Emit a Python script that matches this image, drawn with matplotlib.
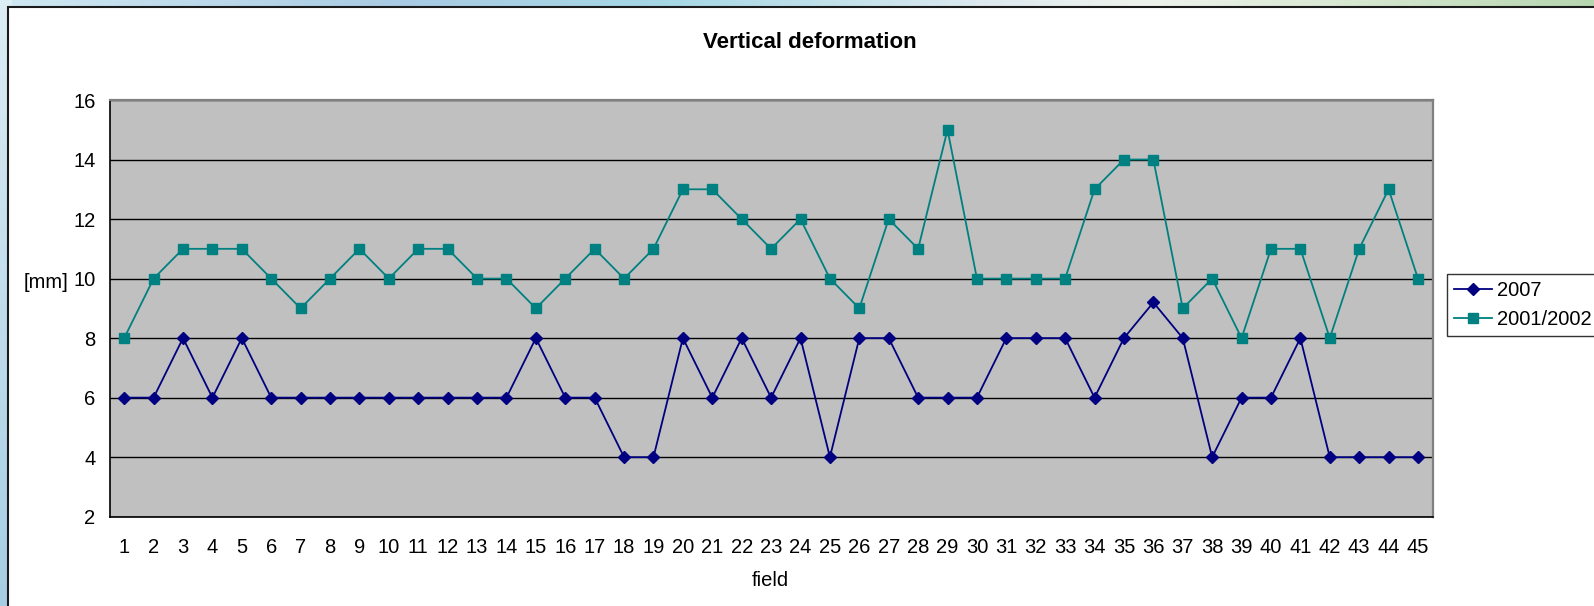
import numpy as np
import matplotlib
matplotlib.use("Agg")
import matplotlib.pyplot as plt
from matplotlib.patches import Rectangle
from matplotlib.colors import to_rgb

plt.rcParams['font.family'] = ['Liberation Sans', 'DejaVu Sans']

fields = list(range(1, 46))
vals_2007 = [6, 6, 8, 6, 8, 6, 6, 6, 6, 6, 6, 6, 6, 6, 8, 6, 6, 4, 4, 8,
             6, 8, 6, 8, 4, 8, 8, 6, 6, 6, 8, 8, 8, 6, 8, 9.2, 8, 4, 6, 6,
             8, 4, 4, 4, 4]
vals_2001 = [8, 10, 11, 11, 11, 10, 9, 10, 11, 10, 11, 11, 10, 10, 9, 10, 11, 10, 11, 13,
             13, 12, 11, 12, 10, 9, 12, 11, 15, 10, 10, 10, 10, 13, 14, 14, 9, 10, 8, 11,
             11, 8, 11, 13, 10]
series_labels = ["2007", "2001/2002"]
y_ticks = [2, 4, 6, 8, 10, 12, 14, 16]

W, H = 1594, 606
fig = plt.figure(figsize=(W / 100, H / 100), dpi=100)

# slide-like gradient background
bg = fig.add_axes([0, 0, 1, 1])
bg.set_axis_off()
xs = np.linspace(0, 1, 400)
stops_x = [0.0, 0.25, 0.42, 0.62, 0.72, 0.85, 1.0]
stops_c = ['#cfe8f2', '#a9cbe3', '#a6d8e6', '#dde9ef', '#eef2ec', '#d6e7d0', '#b6d6b0']
rgb = np.array([to_rgb(c) for c in stops_c])
top = np.stack([np.interp(xs, stops_x, rgb[:, k]) for k in range(3)], axis=-1)
ys = np.linspace(0, 1, 200)
left_top, left_bot = np.array(to_rgb('#dcedf4')), np.array(to_rgb('#a6cde4'))
img = np.tile(top[None, :, :], (200, 1, 1))
col = left_top[None, :] * (1 - ys[:, None]) + left_bot[None, :] * ys[:, None]
img[:, :3, :] = col[:, None, :]
bg.imshow(img, aspect='auto', extent=[0, 1, 0, 1], origin='upper')
bg.set_xlim(0, 1)
bg.set_ylim(0, 1)
bg.add_patch(Rectangle((8 / W, -0.01), 1.0, 1 - 7 / H + 0.01, facecolor='white',
                       edgecolor='#1a1a1a', linewidth=1.5))

ax = fig.add_axes([109.5 / W, 1 - 516.7 / H, (1432.7 - 109.5) / W, (516.7 - 100) / H])
ax.set_facecolor('#c0c0c0')
ax.plot(fields, vals_2007, color='#000080', marker='D', markersize=6.5, linewidth=1.3,
        label=series_labels[0], zorder=3)
ax.plot(fields, vals_2001, color='#008080', marker='s', markersize=6.5, linewidth=1.3,
        label=series_labels[1], zorder=3)

ax.set_xlim(0.5, 45.5)
ax.set_ylim(2, 16)
ax.set_yticks(y_ticks)
ax.set_xticks(fields)
ax.tick_params(length=0, labelsize=14.5)
ax.tick_params(axis='x', pad=15.5)
ax.tick_params(axis='y', pad=10)
ax.yaxis.grid(True, color='black', linewidth=1)
ax.set_axisbelow(True)
for s in ['top', 'right']:
    ax.spines[s].set_color('#808080')
    ax.spines[s].set_linewidth(1.6)
for s in ['left', 'bottom']:
    ax.spines[s].set_color('black')
    ax.spines[s].set_linewidth(1.2)

fig.text(810 / W, 1 - 42 / H, "Vertical deformation", ha='center', va='center',
         fontsize=16, fontweight='bold')
fig.text(46 / W, 1 - 282 / H, "[mm]", ha='center', va='center', fontsize=14.5)
fig.text(770 / W, 1 - 580 / H, "field", ha='center', va='center', fontsize=14.5)

leg = fig.legend(loc='upper left', bbox_to_anchor=(1446.7 / W, 1 - 274 / H),
                 fontsize=14.5, frameon=True, fancybox=False, borderaxespad=0,
                 handlelength=1.9, handletextpad=0.25, labelspacing=0.5,
                 borderpad=0.35)
leg.get_frame().set_edgecolor('black')
leg.get_frame().set_linewidth(1)

fig.savefig("out.png", dpi=100)
